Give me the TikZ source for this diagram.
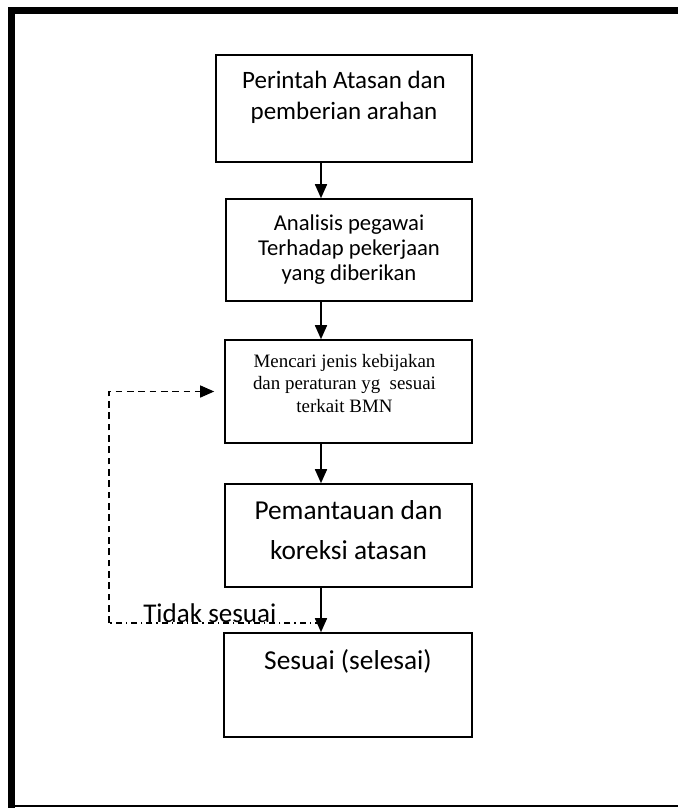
\documentclass[tikz,border=0pt]{standalone}
\usepackage{fontspec}
\setmainfont{Carlito}
\newfontfamily\timesfont{Liberation Serif}
\usetikzlibrary{arrows.meta,positioning,calc}
\tikzset{
    box/.style={draw,line width=1.2pt,inner sep=0pt},
    boxtext/.style={anchor=base,align=center,inner sep=0pt},
    flow/.style={line width=1.2pt,-{Triangle[length=10.5pt,width=9pt]}},
    backline/.style={line width=1pt,dash pattern=on 5pt off 3.5pt},
    backdot/.style={line width=1pt,dash pattern=on 4.5pt off 3pt on 1pt off 3pt},
}
\begin{document}
\begin{tikzpicture}[x=0.75pt,y=-0.75pt]
\useasboundingbox (0,0) rectangle (678,808);

% frame
\fill (8,7) rectangle (678,14);
\fill (8,7) rectangle (15,808);
\draw[line width=1.2pt](8,806)--(678,806);

\node[box,minimum width=192pt,minimum height=80.25pt](b1) at (344,108.5){};
\node[boxtext,font=\fontsize{18.75}{23}\selectfont](t1) at ($(b1.north)+(0,65)$){Perintah Atasan dan\\pemberian arahan};

\node[box,minimum width=184.5pt,minimum height=76.5pt](b2) at (349,250){};
\node[boxtext,font=\fontsize{17}{18.6}\selectfont](t2) at ($(b2.north)+(0,82)$){Analisis pegawai\\Terhadap pekerjaan\\yang diberikan};

\node[box,minimum width=185.25pt,minimum height=77.25pt](b3) at (348.5,391.5){};
\node[boxtext,font=\timesfont\fontsize{14.2}{16.9}\selectfont](t3) at ($(b3.north)+(-4,73)$){Mencari jenis kebijakan\\dan peraturan yg\ \ sesuai\\terkait BMN};

\node[box,minimum width=185.25pt,minimum height=77.25pt](b4) at (348.5,535.5){};
\node[boxtext,font=\fontsize{20.5}{29.5}\selectfont](t4) at ($(b4.north)+(0,76)$){Pemantauan dan\\koreksi atasan};

\node[box,minimum width=186pt,minimum height=78pt](b5) at (348,685){};
\node[boxtext,font=\fontsize{20.5}{24}\selectfont](t5) at ($(b5.north)+(0,37)$){Sesuai (selesai)};

\coordinate (ax) at (321,0);
\draw[flow](b1.south-|ax)--(b2.north-|ax);
\draw[flow](b2.south-|ax)--(b3.north-|ax);
\draw[flow](b3.south-|ax)--(b4.north-|ax);
\draw[flow](b4.south-|ax)--(b5.north-|ax);

% back loop
\coordinate (lp) at (321,623);
\coordinate (lx) at (109,623);
\draw[backdot](lp)--(lx);
\draw[backline,-{Triangle[length=10.5pt,width=9pt]}](lx)|-([xshift=-7.5pt]b3.west);
\node[anchor=base west,inner sep=0pt,font=\fontsize{20.3}{24}\selectfont](tl) at (143,622){Tidak sesuai};

\end{tikzpicture}
\end{document}
